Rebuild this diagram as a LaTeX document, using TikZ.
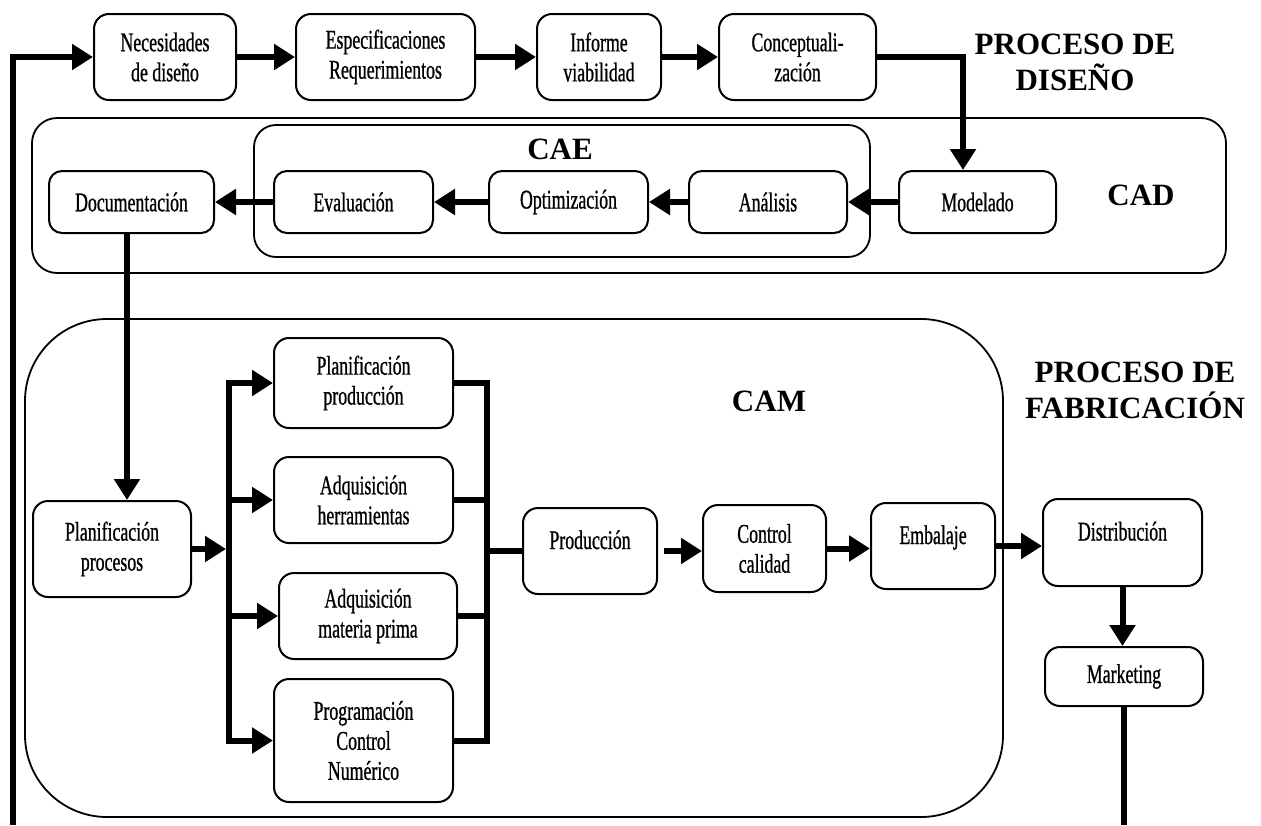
\documentclass[tikz,border=0pt]{standalone}
\usepackage{fontspec}
\setmainfont{Liberation Serif}
\newfontfamily\condfont[FakeStretch=0.66,FakeBold=0.8]{Liberation Serif}
\usetikzlibrary{arrows.meta}
\tikzset{
  box/.style={draw, line width=2pt, rounded corners=15pt, align=center,
    font=\condfont\fontsize{27}{30}\selectfont, inner sep=0pt},
  raised/.style={text height=18pt, text depth=22pt},
  cont/.style={draw, line width=1.8pt, inner sep=0pt},
  ttl/.style={font=\bfseries\fontsize{31}{36}\selectfont, align=center, inner sep=0pt},
  arr/.style={line width=6pt, -{Triangle[length=21pt,width=25pt]}},
  bar/.style={line width=6pt},
}
\begin{document}
\begin{tikzpicture}[x=1pt,y=-1pt]
\useasboundingbox (0,0) rectangle (1261,825);

% containers
\node[cont, rounded corners=25pt, minimum width=1194pt, minimum height=155pt] (cad) at (629,195.5) {};
\node[cont, rounded corners=22pt, minimum width=616pt, minimum height=132pt] (cae) at (562,191) {};
\node[cont, rounded corners=82pt, minimum width=978pt, minimum height=498pt] (cam) at (514,568) {};

% titles
\node[ttl] (tdis) at (1075,62) {PROCESO DE\\DISEÑO};
\node[ttl] (tfab) at (1135,390) {PROCESO DE\\FABRICACIÓN};
\node[ttl] (lcad) at (1141,195) {CAD};
\node[ttl] (lcae) at (560,149) {CAE};
\node[ttl] (lcam) at (769,401) {CAM};

% top row
\node[box, minimum width=142pt, minimum height=86pt] (nec) at (165,57) {Necesidades\\de diseño};
\node[box, minimum width=179pt, minimum height=86pt] (esp) at (385.5,57) {Especificaciones\\Requerimientos};
\node[box, minimum width=124pt, minimum height=86pt] (inf) at (599,57) {Informe\\viabilidad};
\node[box, minimum width=157pt, minimum height=86pt] (con) at (797.5,57) {Conceptuali-\\zación};

% CAD row
\node[box, rounded corners=13pt, minimum width=165pt, minimum height=62pt] (doc) at (131.5,202) {Documentación};
\node[box, rounded corners=13pt, minimum width=159pt, minimum height=62pt] (eva) at (353.5,202) {Evaluación};
\node[box, rounded corners=13pt, minimum width=159pt, minimum height=62pt] (opt) at (568.5,202) {Optimización};
\node[box, rounded corners=13pt, minimum width=158pt, minimum height=62pt] (ana) at (768,202) {Análisis};
\node[box, rounded corners=13pt, minimum width=157pt, minimum height=62pt] (mod) at (977.5,202) {Modelado};

% CAM
\node[box, minimum width=158pt, minimum height=96pt] (pp) at (112,549) {Planificación\\procesos};
\node[box, minimum width=179pt, minimum height=90pt] (pprod) at (363.5,383) {Planificación\\producción};
\node[box, minimum width=179pt, minimum height=86pt] (aherr) at (363.5,500) {Adquisición\\herramientas};
\node[box, minimum width=178pt, minimum height=86pt] (amat) at (368,616) {Adquisición\\materia prima};
\node[box, minimum width=179pt, minimum height=123pt] (prog) at (363.5,740.5) {Programación\\Control\\Numérico};
\node[box, raised, minimum width=134pt, minimum height=86pt] (prod) at (590,551) {Producción};
\node[box, minimum width=123pt, minimum height=87pt] (ctrl) at (764.5,548.5) {Control\\calidad};
\node[box, raised, minimum width=124pt, minimum height=86pt] (emb) at (933,546) {Embalaje};
\node[box, raised, minimum width=159pt, minimum height=87pt] (dist) at (1122.5,542.5) {Distribución};
\node[box, minimum width=158pt, minimum height=59pt] (mkt) at (1124,676.5) {Marketing};

% helper coordinates
\coordinate (lb) at (13,825);
\coordinate (cx) at (963,57);
\coordinate (dx) at (127,233);
\coordinate (bl) at (229,383);
\coordinate (blin) at (226,383);
\coordinate (br) at (487,383);
\coordinate (mb) at (1127,825);

% design flow
\draw[arr] (lb) |- (nec.west);
\draw[arr] (nec) -- (esp);
\draw[arr] (esp) -- (inf);
\draw[arr] (inf) -- (con);
\draw[arr] (con.east) -| (cx |- mod.north);
\draw[arr] (mod) -- (ana);
\draw[arr] (ana) -- (opt);
\draw[arr] (opt) -- (eva);
\draw[arr] (eva) -- (doc);
\draw[arr] (dx |- doc.south) -- (dx |- pp.north);

% manufacturing flow
\draw[arr] (pp.east) -- (pp.east -| blin);
\draw[bar, line cap=rect] (bl |- pprod.west) -- (bl |- prog.west);
\foreach \n in {pprod,aherr,amat,prog}{
  \draw[arr] (bl |- \n.west) -- (\n.west);
  \draw[bar] (\n.east) -- (br |- \n.east);
}
\draw[bar, line cap=rect] (br |- pprod.east) -- (br |- prog.east);
\draw[bar] (br |- prod.west) -- (prod.west);
\draw[arr] ([xshift=6pt]prod.east) -- (prod.east -| ctrl.west);
\draw[arr] (ctrl.east) -- (ctrl.east -| emb.west);
\draw[arr] (emb.east) -- (emb.east -| dist.west);
\draw[arr] (dist.south) -- (dist.south |- mkt.north);
\draw[bar] (mkt.south) -- (mkt.south |- mb);
\end{tikzpicture}
\end{document}
